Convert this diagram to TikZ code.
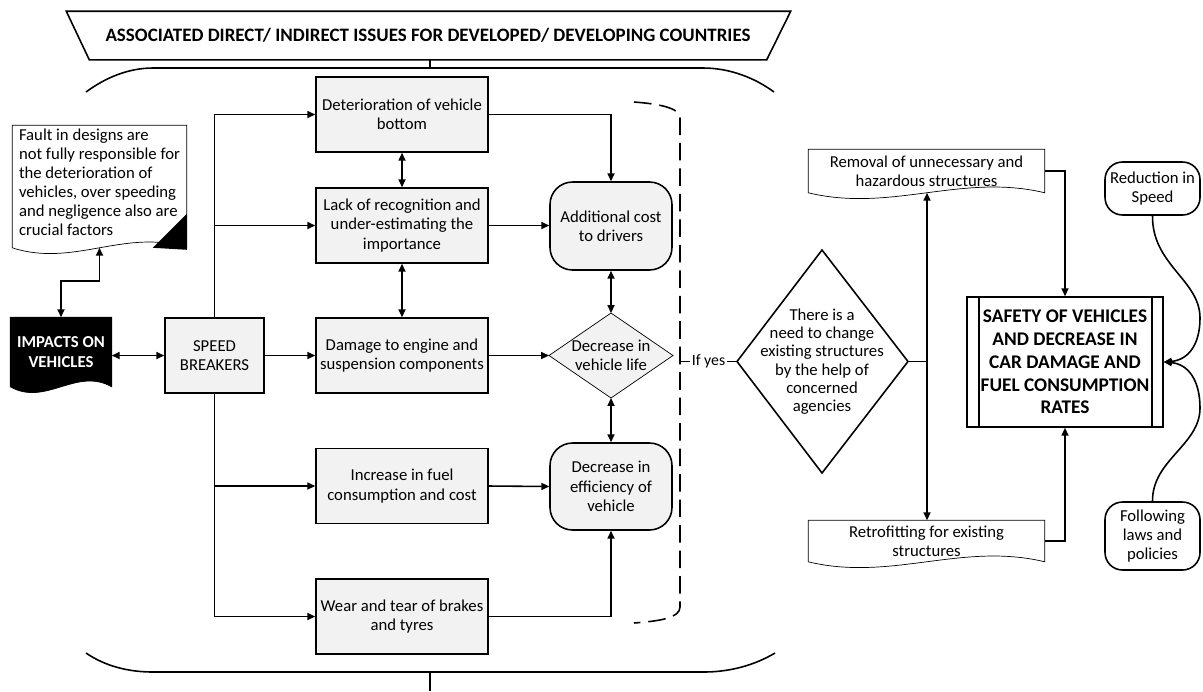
\documentclass[tikz,border=0pt]{standalone}
\usepackage{fontspec}
\setmainfont{Carlito}
\usepackage{tikz}
\usetikzlibrary{arrows.meta, positioning, calc, backgrounds}
\definecolor{boxgray}{RGB}{242,242,242}
\newcommand{\txtfont}{\fontsize{9.5}{11}\selectfont}
\newcommand{\titlefont}{\fontsize{10.8}{13}\selectfont\bfseries}
\newcommand{\safefont}{\fontsize{11}{13}\selectfont\bfseries}
% document shape with a wavy bottom, drawn round a node
\newcommand{\wavydoc}[2][]{%
  \draw[#1] (#2.north west) -- (#2.south west)
    .. controls ($(#2.south west)!0.35!(#2.south east)+(0,20)$) and ($(#2.south west)!0.65!(#2.south east)+(0,-20)$) .. (#2.south east)
    -- (#2.north east) -- cycle;}
\tikzset{
  box/.style={rectangle, draw, fill=boxgray, minimum width=3.44cm, minimum height=1.5cm, align=center, inner sep=1pt, font=\txtfont},
  rnd/.style={rectangle, draw, fill=boxgray, rounded corners=0.45cm, minimum width=2.44cm, align=center, inner sep=1pt, font=\txtfont},
  term/.style={rectangle, draw, rounded corners=0.35cm, minimum width=1.9cm, align=center, inner sep=1pt, font=\txtfont},
  doc/.style={rectangle, align=center, inner sep=1pt, font=\txtfont},
  plain/.style={align=center, inner sep=0pt, font=\txtfont},
}
\begin{document}
\begin{tikzpicture}[x=0.02cm, y=-0.02cm, line width=0.9pt, >={Triangle[length=4.5pt,width=4pt]}]
    \useasboundingbox (0,0) rectangle (1203,691);

    % Titolo
    \node[minimum width=13.52cm, minimum height=0.94cm, inner sep=0pt, font=\titlefont] (title) at (428,35.5) {ASSOCIATED DIRECT/ INDIRECT ISSUES FOR DEVELOPED/ DEVELOPING COUNTRIES};
    \draw ($(title.north west)+(-23,0)$) -- ($(title.north east)+(24,0)$) -- (title.south east) -- (title.south west) -- cycle;

    % Parentesi grande
    \coordinate (bracetop) at (430,68);
    \coordinate (bracebot) at (430,672);
    \coordinate (stemend) at (430,691);
    \draw (86,92) .. controls (105,78) and (128,68) .. (153,68) -- (703,68) .. controls (730,68) and (755,78) .. (774,92);
    \draw (86,653) .. controls (105,666) and (128,672) .. (153,672) -- (704,672) .. controls (730,672) and (755,665) .. (775,653);
    \draw (title.south -| bracetop) -- (bracetop);
    \draw (bracebot) -- (stemend);

    % Nota e impatti
    \node[doc, minimum width=3.46cm, minimum height=2.42cm, align=left, font=\fontsize{9.5}{10.8}\selectfont] (note) at (99.5,186.5) {Fault in designs are\\not fully responsible for\\the deterioration of\\vehicles, over speeding\\and negligence also are\\crucial factors\\[-6pt]};
    \node[doc, minimum width=2cm, minimum height=1.36cm, text=white, font=\txtfont\bfseries] (impacts) at (61,352) {IMPACTS ON\\VEHICLES};

    % Blocchi principali
    \node[box, minimum width=1.98cm] (speed) at (214.5,355.5) {SPEED\\BREAKERS};
    \node[box] (det) at (402,114.5) {Deterioration of vehicle\\bottom};
    \node[box] (lack) at (402,225.5) {Lack of recognition and\\under-estimating the\\importance};
    \node[box] (dmg) at (402,355.5) {Damage to engine and\\suspension components};
    \node[box] (inc) at (402,486) {Increase in fuel\\consumption and cost};
    \node[box] (wear) at (402,616.5) {Wear and tear of brakes\\and tyres};

    % Conseguenze
    \node[rnd, minimum height=1.76cm] (add) at (611,226) {Additional cost\\to drivers};
    \node[plain] (life) at (611,355.5) {Decrease in\\vehicle life};
    \coordinate (lifeW) at (549,355.5);
    \coordinate (lifeE) at (673,355.5);
    \coordinate (lifeN) at (611,313);
    \coordinate (lifeS) at (611,398);
    \node[rnd, minimum height=1.74cm] (eff) at (611,486.5) {Decrease in\\efficiency of\\vehicle};

    % Decisione
    \node[plain, font=\fontsize{9.5}{10.4}\selectfont] (need) at (822,361.5) {There is a\\need to change\\existing structures\\by the help of\\concerned\\agencies};
    \coordinate (needW) at (737,361.5);
    \coordinate (needE) at (908,361.5);
    \coordinate (needN) at (822,250);
    \coordinate (needS) at (822,473);
    \draw (needW) -- (needN) -- (needE) -- (needS) -- cycle;
    \coordinate (brk) at (680,361.5);
    \coordinate (jn) at (927,361.5);

    \node[doc, minimum width=4.7cm, minimum height=0.84cm] (removal) at (926.5,171) {Removal of unnecessary and\\hazardous structures};
    \node[doc, minimum width=4.7cm, minimum height=0.8cm] (retro) at (926.5,541) {Retrofitting for existing\\structures};

    \node[draw, minimum width=3.92cm, minimum height=2.6cm, align=center, inner sep=0pt, font=\safefont] (safety) at (1065,362) {SAFETY OF VEHICLES\\AND DECREASE IN\\CAR DAMAGE AND\\FUEL CONSUMPTION\\RATES};
    \draw ($(safety.north west)+(13,0)$) -- ($(safety.south west)+(13,0)$);
    \draw ($(safety.north east)+(-12,0)$) -- ($(safety.south east)+(-12,0)$);

    \node[term, minimum height=1.06cm] (red) at (1152.5,188.5) {Reduction in\\Speed};
    \node[term, minimum height=1.36cm] (follow) at (1152.5,536) {Following\\laws and\\policies};

    % Forme di sfondo
    \begin{scope}[on background layer]
        \wavydoc[fill=white]{note}
        \fill ($(note.south east)+(0,-34)$) -- ($(note.south east)+(0,2)$) -- ($(note.south east)+(-34,0)$) -- cycle;
        \wavydoc[fill=black]{impacts}
        \wavydoc{removal}
        \wavydoc{retro}
        \draw[fill=boxgray] (lifeW) -- (lifeN) -- (lifeE) -- (lifeS) -- cycle;
    \end{scope}

    % Linea tratteggiata
    \draw[dash pattern=on 10pt off 4.5pt] (634,102) .. controls (660,104) and (680,108) .. (680,118) -- (680,607) .. controls (680,618) and (660,621) .. (634,623);

    % Collegamenti
    \draw[<->] (impacts.north) -- ++(0,-36) -| (note.south);
    \draw[<->] (speed.west -| impacts.east) -- (speed.west);
    \draw[->] (speed.north) |- (det.west);
    \draw[->] (speed.north) |- (lack.west);
    \draw[->] (speed.east) -- (dmg.west);
    \draw[->] (speed.south) |- (inc.west);
    \draw[->] (speed.south) |- (wear.west);
    \draw[<->] (det.south) -- (lack.north);
    \draw[<->] (lack.south) -- (dmg.north);
    \draw[->] (det.east) -| (add.north);
    \draw[->] (lack.east) -- (lack.east -| add.west);
    \draw[->] (dmg.east) -- (lifeW);
    \draw[<->] (add.south) -- (lifeN);
    \draw[<->] (lifeS) -- (eff.north);
    \draw[->] (inc.east) -- (eff.west);
    \draw[->] (wear.east) -| (eff.south);

    \draw (brk) -- node[fill=white, inner sep=1pt, font=\fontsize{9}{10}\selectfont] (ifyes) {If yes} (needW);
    \draw (needE) -- (jn);
    \draw[->] (jn) -- (jn |- removal.south);
    \draw[->] (jn) -- (jn |- retro.north);
    \draw[->] (removal.east) -| (safety.north);
    \draw[->] (retro.east) -| (safety.south);
    \draw[->] (red.south) .. controls (1152,265) and (1200,280) .. (1200,318) .. controls (1200,345) and (1188,360) .. (safety.east);
    \draw[->] (follow.north) .. controls (1152,460) and (1200,445) .. (1200,408) .. controls (1200,380) and (1188,364) .. (safety.east);
\end{tikzpicture}
\end{document}
